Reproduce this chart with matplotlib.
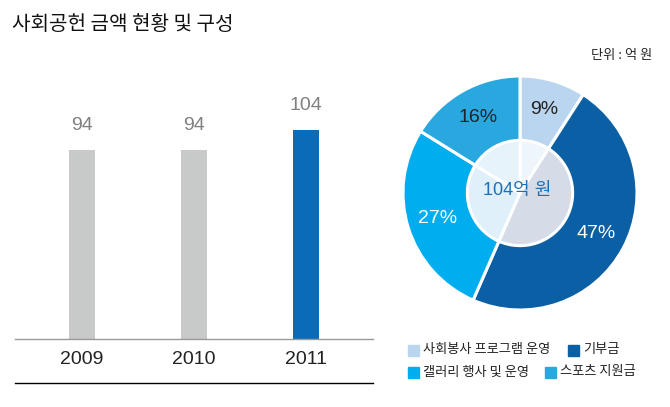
import matplotlib.pyplot as plt
from matplotlib.lines import Line2D
from matplotlib.patches import Rectangle

plt.rcParams['font.family'] = ['Noto Sans CJK KR', 'DejaVu Sans']

title = '사회공헌 금액 현황 및 구성'
unit = '단위 : 억 원'
years = ['2009', '2010', '2011']
amounts = [94, 94, 104]
bar_colors = ['#c8c9c9', '#c8c9c9', '#0a6cb8']

parts = ['사회봉사 프로그램 운영', '기부금', '갤러리 행사 및 운영', '스포츠 지원금']
shares = [9, 47, 27, 16]
part_colors = ['#b9d5ef', '#0b5fa5', '#00aeef', '#29a8e0']
inner_colors = ['#eef5fb', '#d5dce8', '#dff0fa', '#e6f3fb']
pct_colors = ['#222222', 'white', 'white', '#222222']
total_label = '104억 원'

W, H = 670, 407
NUM = ['Liberation Sans', 'Noto Sans CJK KR']
fig = plt.figure(figsize=(W / 100, H / 100), dpi=100)

def px(x0, y0, x1, y1):
    # pixel box (top-left origin) -> figure fraction
    return [x0 / W, 1 - y1 / H, (x1 - x0) / W, (y1 - y0) / H]

fig.text(12 / W, 1 - 24 / H, title, fontsize=14.5, va='center', ha='left',
         color='#111111', fontweight='medium')
fig.text(652 / W, 1 - 55 / H, unit, fontsize=9.5, va='center', ha='right', color='#222222')

# bar chart
ax1 = fig.add_axes(px(15, 60, 373, 339))
x = range(len(years))
ax1.bar(x, amounts, width=0.235, color=bar_colors)
for i, v in enumerate(amounts):
    ax1.text(i, v + 8, str(v), ha='center', va='bottom', fontsize=14,
             color='#808080', family=NUM)
ax1.set_xlim(-0.6, 2.6)
ax1.set_ylim(0, 138.8)
ax1.set_xticks(list(x))
ax1.set_xticklabels(years, fontsize=14, color='#222222', family=NUM)
ax1.tick_params(axis='x', length=0, pad=9)
ax1.set_yticks([])
for s in ['top', 'right', 'left']:
    ax1.spines[s].set_visible(False)
ax1.spines['bottom'].set_color('#9a9a9a')
ax1.spines['bottom'].set_linewidth(1)
fig.add_artist(Line2D([15 / W, 373 / W], [1 - 383 / H, 1 - 383 / H], color='black', lw=1))

# donut chart
cx, cy, r = 520, 193, 117
ax2 = fig.add_axes(px(cx - r, cy - r, cx + r, cy + r))
wedges, labels, pcts = ax2.pie(shares, colors=part_colors, startangle=90, counterclock=False,
                               radius=1, autopct='%.0f%%', pctdistance=0.74,
                               wedgeprops=dict(edgecolor='white', linewidth=2.2),
                               textprops=dict(fontsize=14, family=NUM))
for t, c in zip(pcts, pct_colors):
    t.set_color(c)
ax2.pie(shares, colors=inner_colors, startangle=90, counterclock=False, radius=0.45,
        wedgeprops=dict(edgecolor='white', linewidth=2.2))
ax2.text(-0.02, 0.02, total_label, ha='center', va='center', fontsize=13, color='#1f6fb6',
         family=NUM)
ax2.set_xlim(-1, 1)
ax2.set_ylim(-1, 1)
ax2.axis('off')

# legend
rows = [[(0, 408, 350), (1, 568, 350)], [(2, 408, 372), (3, 545, 372)]]
for row in rows:
    for idx, lx, ly in row:
        fig.add_artist(Rectangle((lx / W, 1 - (ly + 5.5) / H), 11 / W, 11 / H,
                                 color=part_colors[idx], transform=fig.transFigure))
        fig.text((lx + 15) / W, 1 - ly / H, parts[idx], fontsize=9.5, va='center',
                 ha='left', color='#222222')

fig.savefig('out.png', dpi=100)
